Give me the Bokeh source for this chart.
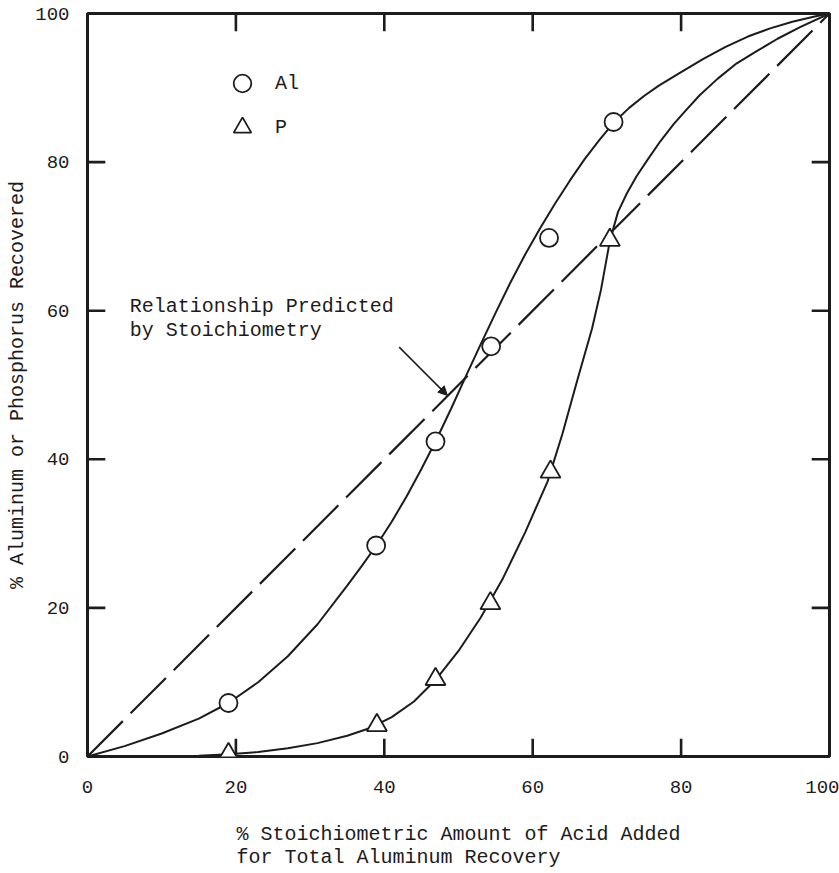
from bokeh.plotting import figure
from bokeh.models import (FixedTicker, Arrow, NormalHead, Label, Range1d,
                          Legend, LegendItem)
from bokeh.embed import file_html
from bokeh.resources import INLINE

# ---- data ----
al_x = [19.0, 38.9, 46.9, 54.4, 62.2, 70.9]
al_y = [7.2, 28.4, 42.4, 55.2, 69.8, 85.4]
p_x = [19.0, 39.0, 46.9, 54.3, 62.4, 70.4]
p_y = [0.3, 4.2, 10.4, 20.6, 38.3, 69.5]

# hand-drawn curves
al_curve_x = [0, 5, 10, 15, 19, 23, 27, 31, 35, 37, 39, 41, 43, 45, 47, 49,
              51, 53, 55, 57, 59, 61, 63, 65, 67, 69, 71, 73, 75, 77, 80, 83,
              86, 89, 92, 95, 98, 100]
al_curve_y = [0, 1.4, 3.1, 5.1, 7.2, 10.0, 13.5, 17.8, 23.0, 25.7, 28.5, 31.6,
              35.0, 38.7, 42.6, 46.8, 51.2, 55.5, 59.7, 63.8, 67.6, 71.1, 74.4,
              77.5, 80.4, 83.0, 85.4, 87.3, 88.9, 90.3, 92.1, 93.9, 95.5, 96.9,
              98.0, 98.9, 99.6, 100]

p_curve_x = [0, 10, 15, 19, 23, 27, 31, 35, 38, 41, 44, 47, 50, 53, 56, 59,
             62, 64, 66, 68, 69.2, 70.4, 71.5, 72.7, 74, 75.4, 77.2, 79, 80.4,
             82.5, 84.9, 87.5, 90.3, 93, 96.1, 100]
p_curve_y = [0, 0, 0.1, 0.3, 0.6, 1.1, 1.8, 2.8, 3.8, 5.3, 7.4, 10.4, 14.2,
             18.7, 24.0, 30.2, 37.0, 43.4, 50.6, 57.6, 62.8, 69.4, 73.3, 75.8,
             78.1, 80.2, 82.8, 85.1, 86.7, 89.0, 91.2, 93.3, 95.0, 96.6, 98.2,
             100]

stoich_x = [0, 100]
stoich_y = [0, 100]

tick_values = [0, 20, 40, 60, 80, 100]
inner_ticks = tick_values[1:-1]

arrow_start = (42.0, 55.1)
arrow_end = (48.5, 48.6)

note_lines = ["Relationship Predicted", "by Stoichiometry"]
x_title = ["% Stoichiometric Amount of Acid Added", "for Total Aluminum Recovery"]
y_title = "% Aluminum or Phosphorus Recovered"

FONT = "Liberation Mono"
INK = "#1c1c1c"
LO, HI = 0, 100          # axis limits
TICK = 2.4               # inward tick length, in axis units

p = figure(width=839, height=873, x_range=Range1d(LO, HI), y_range=Range1d(LO, HI),
           output_backend="svg", toolbar_location=None,
           min_border_left=87, min_border_right=10, min_border_top=13,
           min_border_bottom=117)
p.background_fill_color = "white"
p.border_fill_color = "white"
p.grid.visible = False
p.outline_line_color = INK
p.outline_line_width = 3

# curves
p.line(stoich_x, stoich_y, line_color=INK, line_width=2.2, line_dash="50 11")
p.line(al_curve_x, al_curve_y, line_color=INK, line_width=2)
p.line(p_curve_x, p_curve_y, line_color=INK, line_width=2)

# inward tick marks on all four sides of the box
n = len(inner_ticks)
tk = dict(line_color=INK, line_width=2.6)
p.segment(x0=inner_ticks, y0=[LO] * n, x1=inner_ticks, y1=[LO + TICK] * n, **tk)
p.segment(x0=inner_ticks, y0=[HI] * n, x1=inner_ticks, y1=[HI - TICK] * n, **tk)
p.segment(x0=[LO] * n, y0=inner_ticks, x1=[LO + TICK] * n, y1=inner_ticks, **tk)
p.segment(x0=[HI] * n, y0=inner_ticks, x1=[HI - TICK] * n, y1=inner_ticks, **tk)

r_al = p.scatter(al_x, al_y, marker="circle", size=18, fill_color="white",
                 line_color=INK, line_width=1.8)
r_p = p.scatter(p_x, p_y, marker="triangle", size=20, fill_color="white",
                line_color=INK, line_width=1.8)

legend = Legend(items=[LegendItem(label="Al", renderers=[r_al]),
                       LegendItem(label="P", renderers=[r_p])],
                location=(133, 607), glyph_width=44, glyph_height=44,
                spacing=0, padding=0, margin=0, label_standoff=11,
                label_text_font=FONT, label_text_font_size="20px",
                label_text_color=INK, background_fill_alpha=0,
                border_line_color=None)
p.add_layout(legend)

# axes (labels only; the tick marks are drawn above)
xa = p.xaxis[0]
ya = p.yaxis[0]
for ax in (xa, ya):
    ax.ticker = FixedTicker(ticks=tick_values)
    ax.minor_tick_line_color = None
    ax.major_tick_line_color = None
    ax.major_tick_in = 0
    ax.major_tick_out = 0
    ax.axis_line_color = None
    ax.major_label_text_font = FONT
    ax.major_label_text_font_size = "19px"
    ax.major_label_text_color = INK
    ax.axis_label_text_font = FONT
    ax.axis_label_text_font_size = "20px"
    ax.axis_label_text_font_style = "normal"
    ax.axis_label_text_color = INK

xa.major_label_standoff = 24
ya.major_label_standoff = 18
# monospace font: pad the shorter line with no-break spaces so both lines start together
pad = "\u00a0" * (len(x_title[0]) - len(x_title[1]))
xa.axis_label = x_title[0] + "\n" + x_title[1] + pad
xa.axis_label_text_line_height = 1.0
xa.axis_label_standoff = 27
ya.axis_label = y_title
ya.axis_label_standoff = 3

# annotation
p.add_layout(Label(x=5.7, y=60.6, text=note_lines[0], text_font=FONT,
                   text_font_size="20px", text_color=INK, text_baseline="middle"))
p.add_layout(Label(x=5.7, y=57.3, text=note_lines[1], text_font=FONT,
                   text_font_size="20px", text_color=INK, text_baseline="middle"))
p.add_layout(Arrow(end=NormalHead(size=9, fill_color=INK, line_color=INK),
                   x_start=arrow_start[0], y_start=arrow_start[1],
                   x_end=arrow_end[0], y_end=arrow_end[1],
                   line_color=INK, line_width=1.5))

open("out.html", "w").write(file_html(p, INLINE))
